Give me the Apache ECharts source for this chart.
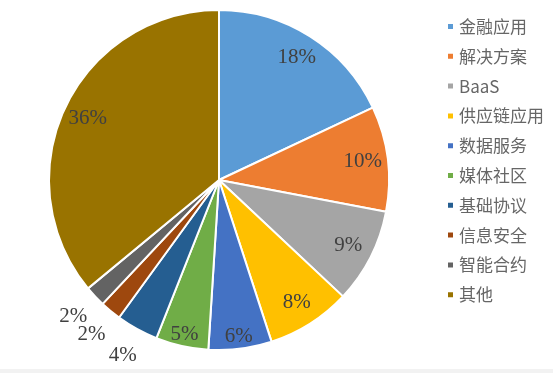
<!DOCTYPE html>
<html>
<head>
<meta charset="utf-8">
<script src="https://cdn.jsdelivr.net/npm/echarts@6/dist/echarts.min.js"></script>
<style>html,body{margin:0;padding:0;background:#fff}#c{width:553px;height:373px}</style>
</head>
<body>
<div id="c"></div>
<script>
const categories = ['金融应用','解决方案','BaaS','供应链应用','数据服务','媒体社区','基础协议','信息安全','智能合约','其他'];
const values = [18, 10, 9, 8, 6, 5, 4, 2, 2, 36];
const colors = ['#5B9BD5','#ED7D31','#A5A5A5','#FFC000','#4472C4','#70AD47','#255E91','#9E480E','#636363','#997300'];

const chart = echarts.init(document.getElementById('c'), null, {renderer:'canvas'});
const CX = 219, CY = 180, R = 170;
const labelFont = {fontFamily:'"Liberation Serif","Times New Roman",serif', fontSize:21, color:'#404040'};

function labelRing(r0, r1, test) {
  return {
    type:'pie', silent:true, startAngle:90, clockwise:true,
    center:[CX, CY], radius:[r0, r1], avoidLabelOverlap:false,
    legendHoverLink:false, minShowLabelAngle:0,
    labelLayout:{hideOverlap:false},
    itemStyle:{color:'rgba(0,0,0,0)', borderWidth:0},
    emphasis:{disabled:true},
    labelLine:{show:false},
    data: categories.map((n,i)=>({name:n, value:values[i],
      label:Object.assign({show:test(values[i]), position:'inside', formatter:'{c}%'}, labelFont)}))
  };
}

chart.setOption({
  animation:false,
  color: colors,
  legend:{
    orient:'vertical', left:446, top:18, padding:0,
    itemWidth:7, itemHeight:7, itemGap:12.8, icon:'rect',
    textStyle:{fontFamily:'"Noto Sans CJK SC","Noto Sans",sans-serif', fontSize:17, color:'#666666', lineHeight:16},
    data: categories
  },
  graphic:[{type:'rect', shape:{x:0, y:369, width:553, height:4}, style:{fill:'#f2f2f2'}, silent:true}],
  series:[
    {
      type:'pie', startAngle:90, clockwise:true,
      center:[CX, CY], radius:[0, R],
      itemStyle:{borderColor:'#fff', borderWidth:2},
      label:{show:false}, labelLine:{show:false},
      emphasis:{disabled:true},
      data: categories.map((n,i)=>({name:n, value:values[i]}))
    },
    labelRing(114, R, v => v >= 8),
    labelRing(140, R, v => v >= 5 && v < 8),
    labelRing(178, 216, v => v < 5)
  ]
});
</script>
</body>
</html>
